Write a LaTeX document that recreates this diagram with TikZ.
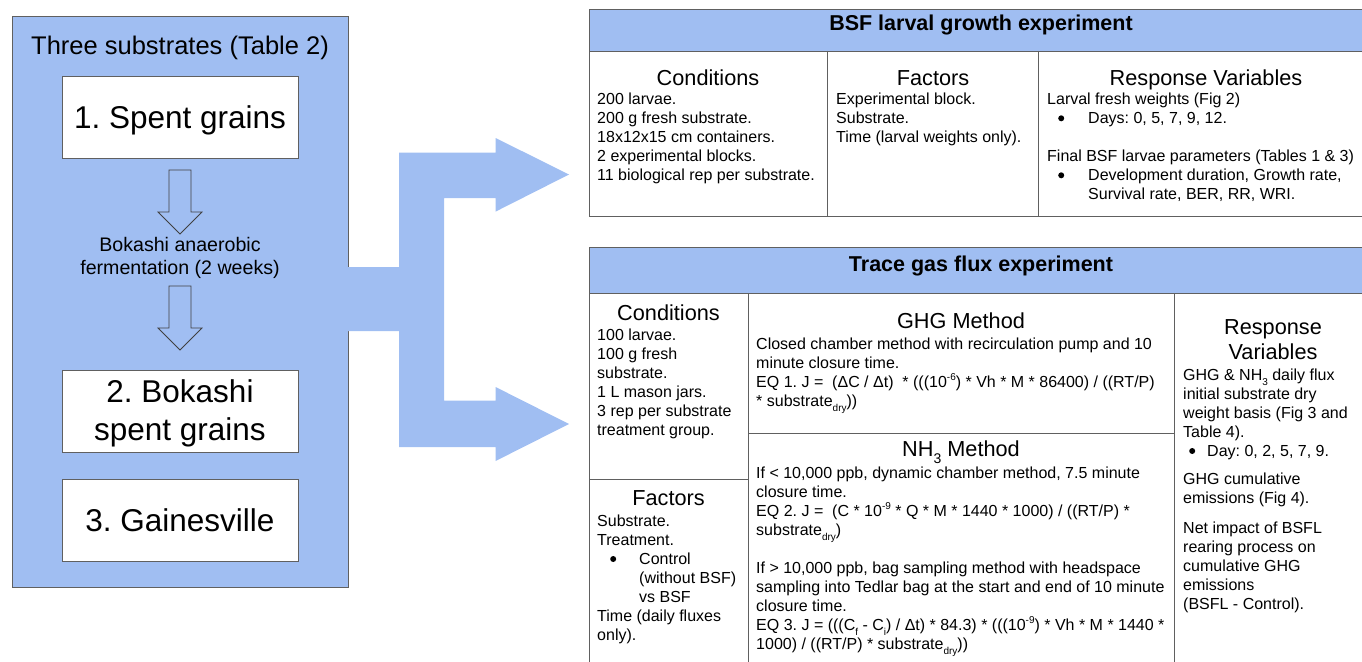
\documentclass[tikz,border=0pt]{standalone}
\usepackage{fontspec}
\setmainfont{Liberation Sans}
\definecolor{bfill}{HTML}{A0BEF2}
\definecolor{bline}{HTML}{606060}
\newcommand\mysup[1]{\smash{\raisebox{0.42em}{\fontsize{10}{10}\selectfont #1}}}
\newcommand\mysub[1]{\smash{\raisebox{-0.32em}{\fontsize{10}{10}\selectfont #1}}}
\newcommand\hsub[1]{\smash{\raisebox{-7pt}{\fontsize{14}{14}\selectfont #1}}}
\newcommand\blk[1]{\begin{tabular}[t]{@{}l@{}}#1\end{tabular}}
\newcommand\blkc[1]{\begin{tabular}[t]{@{}c@{}}#1\end{tabular}}
\newcommand\dotmark{\tikz[baseline=0pt]\fill (3pt,5pt) circle[radius=3pt];}
\newcommand\bul[2]{\hspace{#1}\makebox[#2][l]{\dotmark}}
\tikzset{
  panel/.style={fill=bfill, draw=bline, line width=0.8pt, inner sep=0},
  wbox/.style={fill=white, draw=bline, line width=0.8pt, inner sep=0, minimum width=236pt, minimum height=82pt},
  hollow/.style={draw=black!75, line width=0.8pt, line join=miter},
  tline/.style={draw=bline, line width=0.9pt},
  hdr/.style={font=\fontsize{21.7}{25.5}\selectfont, inner sep=0, anchor=base},
  ttl/.style={font=\bfseries\fontsize{21.5}{25}\selectfont, inner sep=0, anchor=base},
  txt/.style={font=\fontsize{16}{19}\selectfont, inner sep=0, anchor=base west},
  bigtxt/.style={font=\fontsize{31.5}{38}\selectfont, inner sep=0, anchor=base},
  midtxt/.style={font=\fontsize{19.6}{23.4}\selectfont, inner sep=0, anchor=base},
}
\begin{document}
\frenchspacing
\begin{tikzpicture}[x=1pt,y=-1pt]
\useasboundingbox (0,0) rectangle (1362,661);
% ---------- left panel ----------
\node[panel, minimum width=336pt, minimum height=571pt] (panel) at (180,301.5) {};
\node[font=\fontsize{25.5}{30}\selectfont, inner sep=0, anchor=base] (ptitle) at (180,55) {Three substrates (Table 2)};
\node[wbox] (s1) at (180,117) {};
\node[bigtxt] (s1t) at (180,128) {1. Spent grains};
\draw[hollow] (169,170) -- (191,170) -- (191,212) -- (202,212) -- (180,234) -- (158,212) -- (169,212) -- cycle;
\node[midtxt] (ferm) at (180,251) {\blkc{Bokashi anaerobic\\fermentation (2 weeks)}};
\draw[hollow] (169,286) -- (191,286) -- (191,328) -- (202,328) -- (180,350) -- (158,328) -- (169,328) -- cycle;
\node[wbox] (s2) at (180,411) {};
\node[bigtxt] (s2t) at (180,402.6) {\blkc{2. Bokashi\\spent grains}};
\node[wbox] (s3) at (180,520) {};
\node[bigtxt] (s3t) at (180,531) {3. Gainesville};
% ---------- big split arrow ----------
\fill[bfill] (348,267) -- (399,267) -- (399,152.6) -- (495.6,152.6) -- (495.6,138) -- (569,174.5)
  -- (495.6,211.6) -- (495.6,198) -- (444,198) -- (444,400.5) -- (495.6,400.5) -- (495.6,387)
  -- (569,424) -- (495.6,461) -- (495.6,447) -- (399,447) -- (399,331) -- (348,331) -- cycle;
% ---------- top table ----------
\draw[tline, fill=bfill] (589,9.5) rectangle (1373,51);
\draw[tline] (589,51) rectangle (1373,216.5);
\draw[tline] (827,51) -- (827,216.5);
\draw[tline] (1038,51) -- (1038,216.5);
\node[ttl] (t1) at (981,31) {BSF larval growth experiment};
\node[hdr] (c1h) at (708,85) {Conditions};
\node[txt] (c1) at (597,104.3) {\blk{200 larvae.\\200 g fresh substrate.\\18x12x15 cm containers.\\2 experimental blocks.\\11 biological rep per substrate.}};
\node[hdr] (f1h) at (933,85) {Factors};
\node[txt] (f1) at (836,104.3) {\blk{Experimental block.\\Substrate.\\Time (larval weights only).}};
\node[hdr] (r1h) at (1206,85) {Response Variables};
\node[txt] (r1) at (1047,104.3) {\blk{Larval fresh weights (Fig 2)\\
  \bul{11pt}{30pt}Days: 0, 5, 7, 9, 12.\\
  \\
  Final BSF larvae parameters (Tables 1 \& 3)\\
  \bul{11pt}{30pt}Development duration, Growth rate,\\
  \hspace{41pt}Survival rate, BER, RR, WRI.}};
% ---------- bottom table ----------
\draw[tline, fill=bfill] (589,247) rectangle (1373,293);
\draw[tline] (589,293) -- (589,670);
\draw[tline] (748,293) -- (748,670);
\draw[tline] (1174,293) -- (1174,670);
\draw[tline] (589,479) -- (748,479);
\draw[tline] (748,433) -- (1174,433);
\node[ttl] (t2) at (981,271.5) {Trace gas flux experiment};
\node[hdr] (c2h) at (668.5,320) {Conditions};
\node[txt] (c2) at (597,340) {\blk{100 larvae.\\100 g fresh\\substrate.\\1 L mason jars.\\3 rep per substrate\\treatment group.}};
\node[hdr] (f2h) at (668.5,505) {Factors};
\node[txt] (f2) at (597,526) {\blk{Substrate.\\Treatment.\\
  \bul{13pt}{29pt}Control\\
  \hspace{42pt}(without BSF)\\
  \hspace{42pt}vs BSF\\
  Time (daily fluxes\\only).}};
\node[hdr] (gh) at (961,328) {GHG Method};
\node[txt] (g) at (756,349.3) {\blk{Closed chamber method with recirculation pump and 10\\
  minute closure time.\\
  EQ 1. J =\ \ (ΔC / Δt)\ \ * (((10\mysup{-6}) * Vh * M * 86400) / ((RT/P)\\
  {*} substrate\mysub{dry}))}};
\node[hdr] (nh) at (961,456.7) {NH\hsub{3} Method};
\node[txt] (n) at (756,478.3) {\blk{If < 10,000 ppb, dynamic chamber method, 7.5 minute\\
  closure time.\\
  EQ 2. J =\ \ (C * 10\mysup{-9} * Q * M * 1440 * 1000) / ((RT/P) *\\
  substrate\mysub{dry})\\
  \\
  If > 10,000 ppb, bag sampling method with headspace\\
  sampling into Tedlar bag at the start and end of 10 minute\\
  closure time.\\
  EQ 3. J = (((C\mysub{f} - C\mysub{i}) / Δt) * 84.3) * (((10\mysup{-9}) * Vh * M * 1440 *\\
  1000) / ((RT/P) * substrate\mysub{dry}))}};
\node[hdr] (rh1) at (1273,334) {Response};
\node[hdr] (rh2) at (1273,359.5) {Variables};
\node[txt] (ra) at (1183,380) {\blk{GHG \& NH\mysub{3} daily flux\\initial substrate dry\\weight basis (Fig 3 and\\Table 4).\\
  \bul{6pt}{18pt}Day: 0, 2, 5, 7, 9.}};
\node[txt] (rb) at (1183,484.5) {\blk{GHG cumulative\\emissions (Fig 4).}};
\node[txt] (rc) at (1183,533) {\blk{Net impact of BSFL\\rearing process on\\cumulative GHG\\emissions\\(BSFL - Control).}};
\end{tikzpicture}
\end{document}
